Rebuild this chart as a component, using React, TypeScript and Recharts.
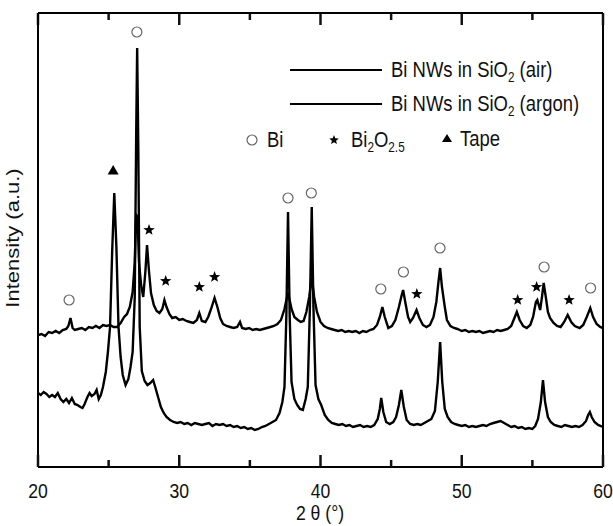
import React from 'react'
import {
  ComposedChart,
  Line,
  Scatter,
  XAxis,
  YAxis,
  ReferenceLine,
} from 'recharts'

// 2θ positions (deg) and intensities (a.u.)
const airTheta = [
  20.0, 20.25, 20.5, 20.75, 21.0, 21.25, 21.5, 21.75, 22.0, 22.15, 22.3, 22.45, 22.6, 22.85,
  23.1, 23.35, 23.6, 23.85, 24.1, 24.35, 24.6, 24.85, 25.1, 25.35, 25.6, 25.85, 26.1, 26.3,
  26.5, 26.7, 26.85, 26.95, 27.05, 27.15, 27.3, 27.45, 27.6, 27.72, 27.85, 28.0, 28.2, 28.4,
  28.6, 28.8, 28.95, 29.1, 29.3, 29.5, 29.75, 30.0, 30.25, 30.5, 30.75, 31.0, 31.25, 31.42,
  31.6, 31.85, 32.05, 32.25, 32.5, 32.7, 32.9, 33.1, 33.35, 33.6, 33.85, 34.1, 34.3, 34.45,
  34.7, 34.95, 35.2, 35.45, 35.7, 35.95, 36.2, 36.45, 36.7, 36.95, 37.2, 37.45, 37.6, 37.7,
  37.8, 37.95, 38.15, 38.4, 38.6, 38.8, 39.0, 39.2, 39.38, 39.55, 39.75, 40.0, 40.25, 40.5,
  40.75, 41.0, 41.25, 41.5, 41.75, 42.0, 42.25, 42.5, 42.75, 43.0, 43.25, 43.5, 43.75, 44.0,
  44.2, 44.38, 44.55, 44.8, 45.05, 45.3, 45.55, 45.75, 45.85, 46.0, 46.2, 46.35, 46.55, 46.8,
  47.0, 47.25, 47.5, 47.75, 48.0, 48.2, 48.35, 48.47, 48.6, 48.8, 48.95, 49.2, 49.45, 49.7,
  50.0, 50.25, 50.5, 50.75, 51.0, 51.25, 51.5, 51.75, 52.0, 52.25, 52.5, 52.75, 53.0, 53.25,
  53.5, 53.7, 53.9, 54.1, 54.35, 54.6, 54.85, 55.05, 55.25, 55.35, 55.55, 55.68, 55.8, 55.95,
  56.1, 56.25, 56.5, 56.75, 57.0, 57.25, 57.5, 57.75, 58.0, 58.35, 58.6, 58.85, 59.1, 59.3,
  59.55, 59.8, 60.0,
]
const airCounts = [
  132, 133, 131, 135, 134, 136, 134, 137, 138, 141, 149, 139, 137, 138,
  139, 137, 140, 139, 141, 139, 142, 141, 142, 140, 140, 144, 150, 153,
  160, 175, 205, 252, 250, 205, 182, 170, 195, 222, 197, 174, 162, 156,
  154, 158, 167, 160, 153, 149, 150, 147, 148, 146, 145, 144, 147, 154,
  146, 145, 150, 158, 169, 160, 149, 143, 141, 140, 139, 140, 145, 139,
  138, 139, 137, 138, 137, 138, 139, 140, 141, 143, 147, 158, 168, 174,
  168, 158, 150, 147, 145, 146, 155, 170, 190, 170, 155, 145, 141, 139,
  138, 137, 136, 137, 135, 136, 135, 136, 134, 136, 135, 137, 138, 142,
  150, 160, 150, 139, 141, 147, 160, 172, 177, 165, 150, 145, 149, 157,
  149, 142, 140, 142, 150, 165, 185, 199, 180, 160, 147, 141, 139, 138,
  136, 137, 135, 136, 135, 136, 134, 135, 136, 135, 137, 136, 137, 138,
  141, 148, 155, 147, 141, 139, 142, 150, 165, 167, 157, 170, 184, 170,
  155, 149, 144, 141, 140, 145, 152, 145, 141, 139, 142, 150, 159, 150,
  143, 140, 139,
]

const argonTheta = [
  20.0, 20.2, 20.4, 20.6, 20.8, 21.0, 21.2, 21.4, 21.6, 21.8, 22.0, 22.2, 22.4, 22.6,
  22.8, 23.0, 23.15, 23.3, 23.5, 23.65, 23.8, 24.0, 24.15, 24.3, 24.45, 24.6, 24.8, 24.95,
  25.1, 25.25, 25.4, 25.55, 25.7, 25.85, 26.0, 26.2, 26.4, 26.55, 26.7, 26.85, 26.95, 27.02,
  27.1, 27.2, 27.35, 27.55, 27.75, 27.95, 28.15, 28.3, 28.5, 28.7, 28.9, 29.1, 29.35, 29.6,
  29.85, 30.1, 30.35, 30.6, 30.85, 31.1, 31.35, 31.6, 31.85, 32.1, 32.35, 32.6, 32.85, 33.1,
  33.35, 33.6, 33.85, 34.1, 34.35, 34.6, 34.85, 35.1, 35.35, 35.6, 35.85, 36.1, 36.35, 36.6,
  36.85, 37.1, 37.3, 37.45, 37.58, 37.7, 37.82, 37.95, 38.15, 38.35, 38.55, 38.75, 38.95, 39.1,
  39.25, 39.38, 39.5, 39.65, 39.85, 40.05, 40.3, 40.55, 40.8, 41.05, 41.3, 41.55, 41.8, 42.05,
  42.3, 42.55, 42.8, 43.05, 43.3, 43.55, 43.8, 44.05, 44.2, 44.3, 44.45, 44.65, 44.9, 45.15,
  45.35, 45.55, 45.72, 45.9, 46.1, 46.35, 46.6, 46.85, 47.1, 47.35, 47.6, 47.85, 48.1, 48.3,
  48.47, 48.62, 48.8, 49.0, 49.25, 49.5, 49.75, 50.0, 50.25, 50.5, 50.75, 51.0, 51.25, 51.5,
  51.75, 52.0, 52.25, 52.5, 52.75, 53.0, 53.25, 53.5, 53.75, 54.0, 54.25, 54.5, 54.75, 55.0,
  55.2, 55.4, 55.6, 55.75, 55.9, 56.1, 56.3, 56.55, 56.8, 57.05, 57.3, 57.55, 57.8, 58.05,
  58.3, 58.55, 58.8, 58.95, 59.07, 59.2, 59.4, 59.65, 59.85, 60.0,
]
const argonCounts = [
  74, 72, 75, 73, 70, 72, 70, 74, 68, 65, 68, 64, 69, 63,
  62, 60, 59, 63, 70, 74, 71, 73, 77, 68, 72, 80, 95, 115,
  140, 215, 274, 220, 140, 110, 92, 82, 88, 100, 115, 170, 330, 419,
  320, 140, 96, 86, 82, 84, 87, 80, 70, 60, 54, 50, 47, 45,
  44, 45, 43, 44, 42, 44, 43, 42, 43, 44, 41, 43, 42, 43,
  41, 42, 40, 41, 39, 40, 38, 39, 37, 38, 40, 41, 43, 45,
  47, 54, 65, 80, 150, 255, 150, 85, 68, 62, 58, 57, 68, 80,
  160, 260, 160, 82, 68, 62, 52, 47, 44, 43, 42, 43, 41, 42,
  40, 41, 42, 40, 41, 40, 42, 48, 58, 69, 55, 45, 43, 45,
  50, 62, 77, 60, 47, 43, 42, 43, 42, 44, 46, 48, 56, 85,
  125, 85, 58, 50, 45, 43, 42, 41, 42, 40, 41, 40, 41, 42,
  41, 43, 44, 45, 46, 44, 42, 40, 41, 39, 40, 38, 39, 38,
  41, 48, 65, 87, 65, 50, 45, 42, 41, 40, 42, 41, 40, 41,
  40, 42, 46, 52, 55, 50, 45, 42, 41, 40,
]

// peak marker positions (2θ, height of the marker)
const biTheta = [22.2, 27.0, 37.7, 39.35, 44.27, 45.87, 48.46, 55.83, 59.12]
const biHeight = [167, 435, 269, 274, 178, 195, 219, 200, 179]
const oxideTheta = [27.86, 29.04, 31.42, 32.5, 46.82, 53.96, 55.3, 57.6]
const oxideHeight = [237, 186, 180, 190, 173, 167, 180, 167]
const tapeTheta = [25.32]
const tapeHeight = [297]

const xTicks = [20, 25, 30, 35, 40, 45, 50, 55, 60]
const Y_MAX = 454

const zip = (xs: number[], ys: number[]) => xs.map((x, i) => ({ x, y: ys[i] }))
const airData = zip(airTheta, airCounts)
const argonData = zip(argonTheta, argonCounts)
const biData = zip(biTheta, biHeight)
const oxideData = zip(oxideTheta, oxideHeight)
const tapeData = zip(tapeTheta, tapeHeight)

const FONT = "'Liberation Sans', Arial, sans-serif"
const SQUEEZE = 0.84
const axisStyle = { stroke: '#000', strokeWidth: 2 }

function starPoints(cx: number, cy: number, R: number, r: number) {
  const pts: string[] = []
  for (let i = 0; i < 10; i++) {
    const a = -Math.PI / 2 + (i * Math.PI) / 5
    const rad = i % 2 === 0 ? R : r
    pts.push(`${cx + rad * Math.cos(a)},${cy + rad * Math.sin(a)}`)
  }
  return pts.join(' ')
}

const CircleMark = (p: any) => (
  <circle cx={p.cx} cy={p.cy} r={5} fill="none" stroke="#666" strokeWidth={1.2} />
)
const StarMark = (p: any) => <polygon points={starPoints(p.cx, p.cy, 6, 2.5)} fill="#000" />
const TriMark = (p: any) => (
  <polygon points={`${p.cx},${p.cy - 5} ${p.cx - 5.5},${p.cy + 4.5} ${p.cx + 5.5},${p.cy + 4.5}`} fill="#000" />
)

// inward tick mark on every tick, label only on the decades
const BottomTick = (props: any) => {
  const { x, y, payload } = props
  const major = payload.value % 10 === 0
  return (
    <g>
      <line x1={x} x2={x} y1={y} y2={y - (major ? 12 : 7)} stroke="#111" strokeWidth={2.5} />
      {major && (
        <text transform={`translate(${x},${y + 31}) scale(${SQUEEZE},1)`} textAnchor="middle"
          fontSize={21} fontFamily={FONT} fill="#111">
          {payload.value}
        </text>
      )}
    </g>
  )
}

function Sub({ children }: { children: string }) {
  return <tspan fontSize={14} dy={5}>{children}</tspan>
}

function Legend() {
  const t = (x: number, y: number) => `translate(${x},${y}) scale(${SQUEEZE},1)`
  return (
    <svg width={613} height={526} style={{ position: 'absolute', left: 0, top: 0 }}>
      <line x1={290} x2={382} y1={70} y2={70} stroke="#000" strokeWidth={2} />
      <text transform={t(391, 77)} fontSize={22} fontFamily={FONT} fill="#111">
        Bi NWs in SiO<Sub>2</Sub><tspan dy={-5}> (air)</tspan>
      </text>
      <line x1={290} x2={382} y1={104} y2={104} stroke="#000" strokeWidth={2} />
      <text transform={t(391, 111)} fontSize={22} fontFamily={FONT} fill="#111">
        Bi NWs in SiO<Sub>2</Sub><tspan dy={-5}> (argon)</tspan>
      </text>

      <circle cx={252} cy={140} r={5} fill="none" stroke="#666" strokeWidth={1.2} />
      <text transform={t(267, 147)} fontSize={22} fontFamily={FONT} fill="#111">Bi</text>
      <polygon points={starPoints(334, 140, 5, 2.2)} fill="#000" />
      <text transform={t(351, 147)} fontSize={22} fontFamily={FONT} fill="#111">
        Bi<Sub>2</Sub><tspan dy={-5}>O</tspan><Sub>2.5</Sub>
      </text>
      <polygon points="447,134 442,142 452,142" fill="#000" />
      <text transform={t(460, 146)} fontSize={22} fontFamily={FONT} fill="#111">Tape</text>

      <text transform={`translate(320,520) scale(${SQUEEZE},1)`} textAnchor="middle" fontSize={21}
        fontFamily={FONT} fill="#111">
        2 θ (°)
      </text>
      <text transform={`translate(19,238) scale(${SQUEEZE},1) rotate(-90)`} textAnchor="middle"
        fontSize={22} fontFamily={FONT} fill="#111">
        Intensity (a.u.)
      </text>
    </svg>
  )
}

export default function App() {
  return (
    <div style={{ position: 'absolute', left: 0, top: 0, width: 613, height: 526, background: '#fff' }}>
      <Legend />
      <ComposedChart width={613} height={526} margin={{ top: 12, right: 10, bottom: 29, left: 37 }}>
        <XAxis dataKey="x" type="number" domain={[20, 60]} ticks={xTicks} interval={0}
          height={30} tickSize={0} tickMargin={0} tick={<BottomTick />} tickLine={false}
          axisLine={axisStyle} allowDataOverflow />
        <XAxis xAxisId="t" orientation="top" dataKey="x" type="number" domain={[20, 60]} ticks={xTicks}
          interval={0} height={1} tick={false} tickLine={false} axisLine={axisStyle} allowDataOverflow />
        <YAxis type="number" domain={[0, Y_MAX]} width={1} tick={false} tickLine={false}
          axisLine={axisStyle} allowDataOverflow />

        {/* right frame edge and inward tick marks on the top frame */}
        <ReferenceLine x={60} stroke="#000" strokeWidth={2} ifOverflow="visible" />
        {xTicks.map((t) => (
          <ReferenceLine key={`t${t}`}
            segment={[{ x: t, y: Y_MAX }, { x: t, y: Y_MAX - (t % 10 === 0 ? 12 : 7) }]}
            stroke="#111" strokeWidth={2.5} ifOverflow="visible" />
        ))}

        <Line data={argonData} dataKey="y" type="linear" stroke="#000"
          strokeWidth={2.4} dot={false} isAnimationActive={false} />
        <Line data={airData} dataKey="y" type="linear" stroke="#000"
          strokeWidth={2.4} dot={false} isAnimationActive={false} />

        <Scatter data={biData} dataKey="y" shape={CircleMark} isAnimationActive={false} />
        <Scatter data={oxideData} dataKey="y" shape={StarMark} isAnimationActive={false} />
        <Scatter data={tapeData} dataKey="y" shape={TriMark} isAnimationActive={false} />
      </ComposedChart>
    </div>
  )
}
